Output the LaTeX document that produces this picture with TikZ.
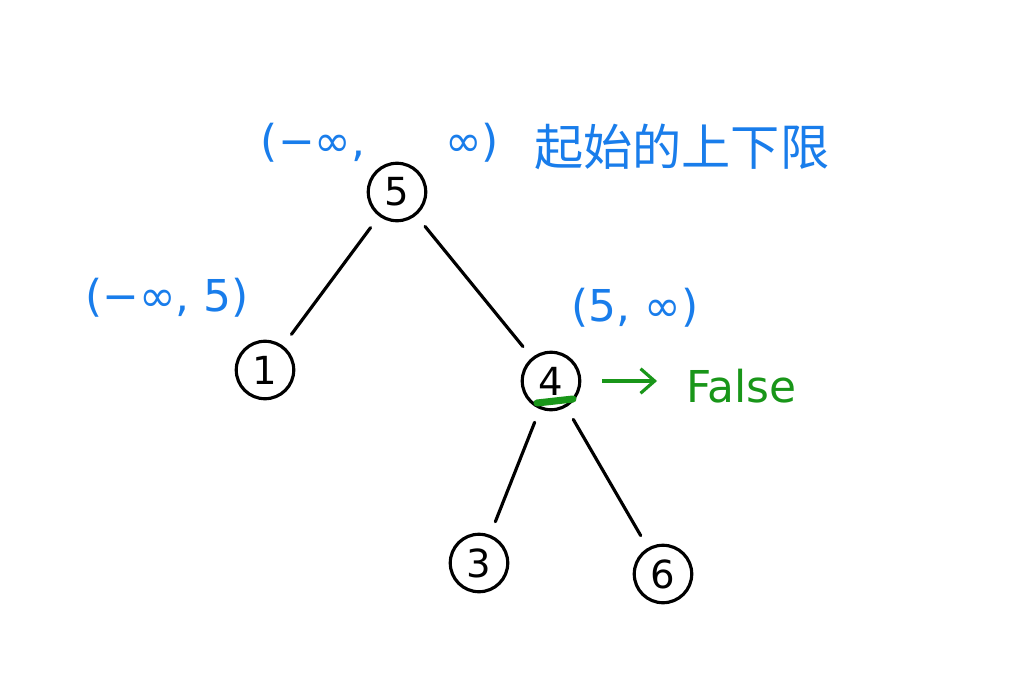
\documentclass[tikz,border=0pt]{standalone}
\usepackage{fontspec}
\setmainfont{DejaVu Sans}
\newfontfamily\cjk{Noto Sans CJK SC}
\usetikzlibrary{arrows.meta}
\definecolor{penblue}{RGB}{25,125,235}
\definecolor{pengreen}{RGB}{25,150,25}
\tikzset{
  key/.style={draw,circle,line width=1.8pt,minimum size=1.15cm,inner sep=0pt,font=\fontsize{22}{24}\selectfont},
  branch/.style={line width=1.8pt,line cap=round,shorten <=8pt,shorten >=8pt},
  bound/.style={text=penblue,font=\fontsize{25}{28}\selectfont}
}

\begin{document}
\begin{tikzpicture}[x=0.02cm,y=-0.02cm]
\useasboundingbox[fill=white] (0,0) rectangle (1024,689);
% keys
\node[key] (five) at (397,192) {5};
\node[key] (one) at (265,370) {1};
\node[key] (four) at (551,381) {4};
\node[key] (three) at (479,563) {3};
\node[key] (six) at (663,574) {6};
%
\draw[branch] (five) -- (one);
\draw[branch] (five) -- (four);
\draw[branch] (four) -- (three);
\draw[branch] (four) -- (six);
% ranges
\node[bound] (root range) at (380,143) {(−∞,\hspace{1.6cm}∞)};
\node[bound,font=\fontsize{28}{32}\selectfont\cjk,anchor=west] (root note) at (528,147) {起始的上下限};
\node[bound] (left range) at (167,298) {(−∞, 5)};
\node[bound] (right range) at (635,308) {(5, ∞)};
% check of 4
\draw[pengreen,line width=4pt,line cap=round] (537,403) -- (573,399);
\node[text=pengreen,font=\fontsize{25}{28}\selectfont,anchor=west] (verdict) at (680,386) {False};
\coordinate (arrow tip) at (657,381);
\draw[pengreen,line width=1.8pt,shorten <=12pt,-{Straight Barb[length=8pt,width=14pt]}] (four) -- (arrow tip);
\end{tikzpicture}
\end{document}
